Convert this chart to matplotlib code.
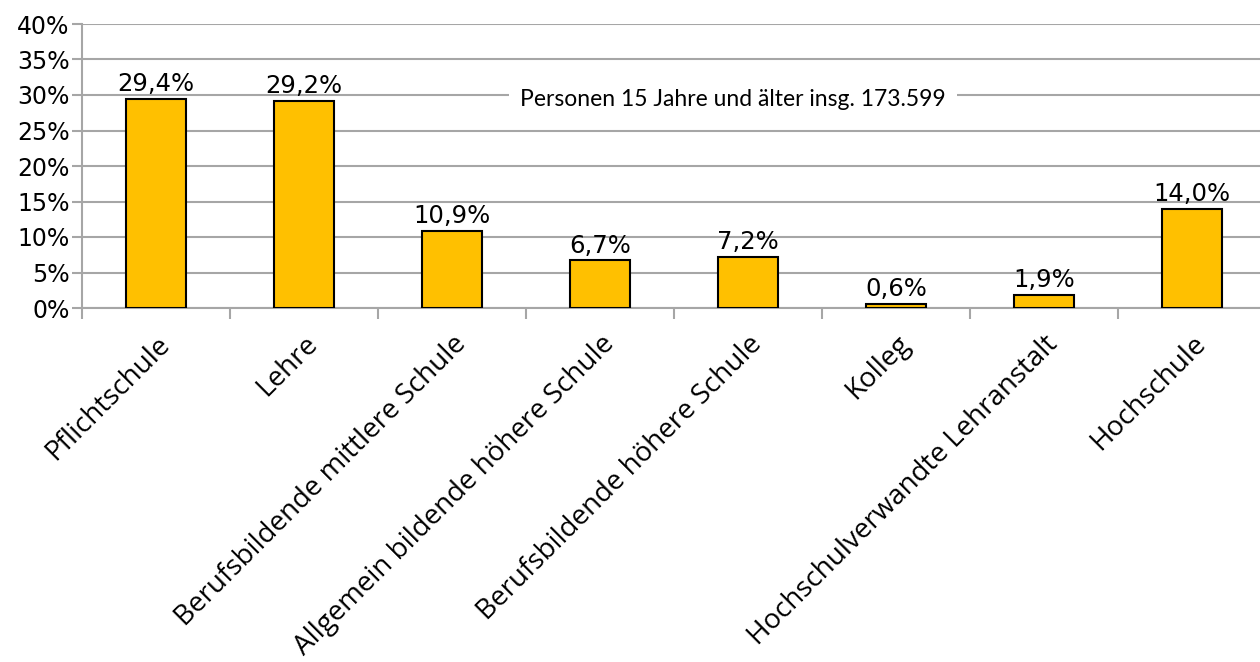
import matplotlib
matplotlib.use("Agg")
import matplotlib.pyplot as plt
from matplotlib.ticker import MultipleLocator, FuncFormatter, FixedLocator

categories = ["Pflichtschule", "Lehre", "Berufsbildende mittlere Schule",
              "Allgemein bildende höhere Schule", "Berufsbildende höhere Schule",
              "Kolleg", "Hochschulverwandte Lehranstalt", "Hochschule"]
shares = [29.4, 29.2, 10.9, 6.7, 7.2, 0.6, 1.9, 14.0]
note = "Personen 15 Jahre und älter insg. 173.599"

grid_col = "#a6a6a6"
plt.rcParams["font.family"] = ["DejaVu Sans"]

fig = plt.figure(figsize=(12.6, 6.62), dpi=100)
ax = fig.add_axes([82 / 1260, 1 - 308 / 662, 1184 / 1260, 284 / 662])

x = list(range(len(categories)))
ax.bar(x, shares, width=0.405, color="#FFC000", edgecolor="black",
       linewidth=1.5, zorder=3)

# value labels with German decimal comma
for xi, v in zip(x, shares):
    ax.annotate(f"{v:.1f}%".replace(".", ","), (xi, v), xytext=(0, 2),
                textcoords="offset points", ha="center", va="bottom",
                fontsize=17.5, zorder=4)

ax.set_xlim(-0.5, 7.5)
ax.set_ylim(0, 40)
ax.yaxis.set_major_locator(MultipleLocator(5))
ax.yaxis.set_major_formatter(FuncFormatter(lambda v, _: f"{v:.0f}%"))
ax.grid(axis="y", color=grid_col, linewidth=1.5, zorder=0)
ax.tick_params(axis="y", length=7, width=1.5, color=grid_col,
               labelsize=17, pad=2)

# category boundary ticks, names on minor ticks at bar centres
ax.xaxis.set_major_locator(FixedLocator([i - 0.5 for i in range(len(categories) + 1)]))
ax.xaxis.set_major_formatter(FuncFormatter(lambda v, _: ""))
ax.xaxis.set_minor_locator(FixedLocator(x))
ax.set_xticklabels(categories, minor=True, rotation=45, ha="right",
                   rotation_mode="anchor", fontsize=20, family="Open Sans")
ax.tick_params(axis="x", which="major", length=8, width=1.5, color=grid_col)
ax.tick_params(axis="x", which="minor", length=0, pad=16)

for s in ["top", "right"]:
    ax.spines[s].set_visible(False)
ax.spines["left"].set_color(grid_col)
ax.spines["left"].set_linewidth(1.5)
ax.spines["bottom"].set_color(grid_col)
ax.spines["bottom"].set_linewidth(1.5)

ax.text(3.9, 29.3, note, ha="center", va="center", fontsize=16.5,
        family="Lato", zorder=5,
        bbox=dict(facecolor="white", edgecolor="none", pad=8))

fig.savefig("out.png", dpi=100)
